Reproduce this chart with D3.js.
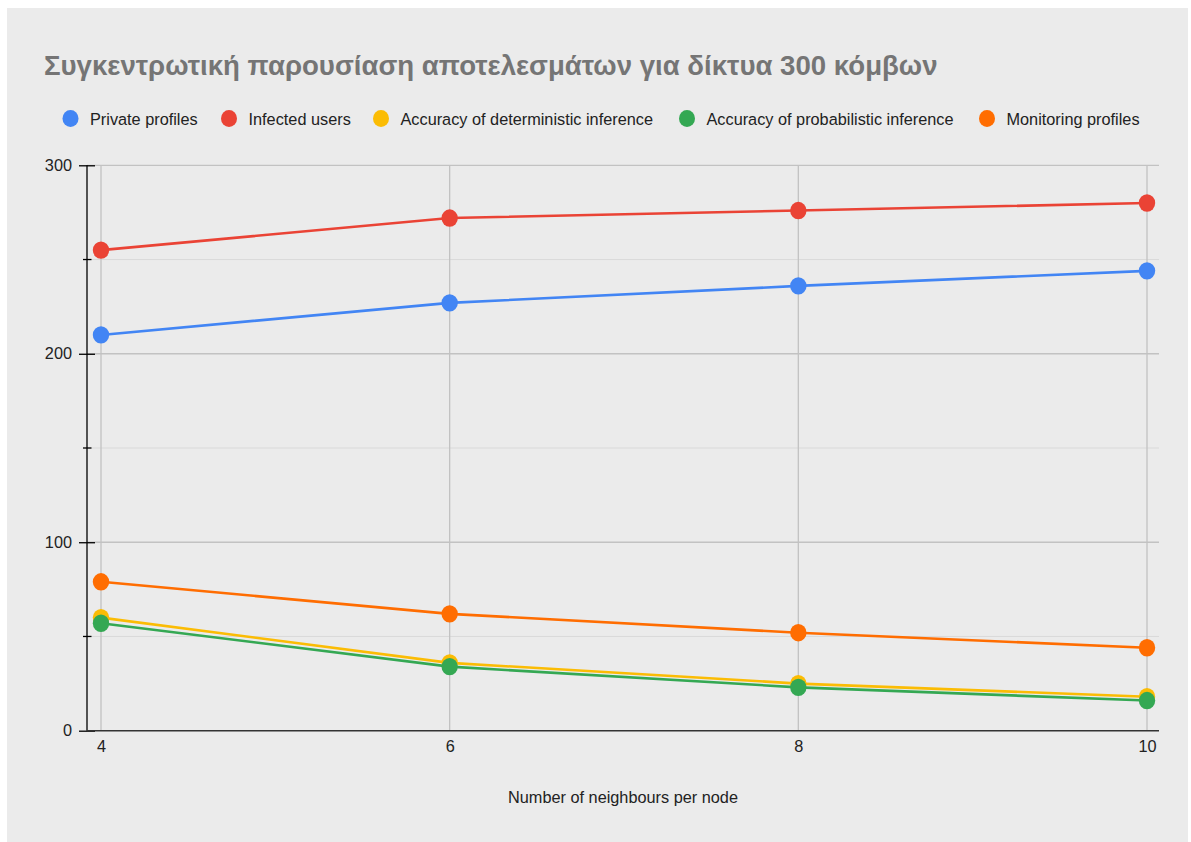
<!DOCTYPE html>
<html>
<head>
<meta charset="utf-8">
<script src="https://cdn.jsdelivr.net/npm/d3@7"></script>
<style>
html,body{margin:0;padding:0;background:#fff;}
svg{display:block;font-family:"Liberation Sans",Arial,sans-serif;}
</style>
</head>
<body>
<svg id="chart" width="1191" height="842"></svg>
<script>
const title = "Συγκεντρωτική παρουσίαση αποτελεσμάτων για δίκτυα 300 κόμβων";
const xLabel = "Number of neighbours per node";
const categories = [4, 6, 8, 10];
const seriesNames = ["Private profiles", "Infected users", "Accuracy of deterministic inference", "Accuracy of probabilistic inference", "Monitoring profiles"];
const seriesColors = ["#4285f4", "#ea4335", "#fbbc04", "#34a853", "#ff6d01"];
const privateProfiles = [210, 227, 236, 244];
const infectedUsers = [255, 272, 276, 280];
const deterministic = [60, 36, 25, 18];
const probabilistic = [57, 34, 23, 16];
const monitoring = [79, 62, 52, 44];
const yTicks = [0, 100, 200, 300];
const yMinorTicks = [50, 150, 250];
const xTicks = [4, 6, 8, 10];

const seriesValues = [privateProfiles, infectedUsers, deterministic, probabilistic, monitoring];
// draw order: so green sits over yellow
const drawOrder = [0, 1, 2, 4, 3];

const svg = d3.select("#chart");
svg.append("rect").attr("x", 7).attr("y", 8).attr("width", 1181).attr("height", 834).attr("fill", "#ebebeb");

const x = d3.scaleLinear().domain([4, 10]).range([101, 1147]);
const y = d3.scaleLinear().domain([0, 300]).range([730.7, 165.3]);
const plotLeft = 87, plotRight = 1159;
const labelSize = 16.3;

// title
svg.append("text").attr("x", 44).attr("y", 75).attr("font-size", 27.6).attr("font-weight", "bold")
  .attr("fill", "#757575").text(title);

// legend
const legendX = [70.5, 229, 381, 687, 987];
seriesNames.forEach((n, i) => {
  const g = svg.append("g");
  g.append("ellipse").attr("cx", legendX[i]).attr("cy", 118.5).attr("rx", 8).attr("ry", 8.5).attr("fill", seriesColors[i]);
  g.append("text").attr("x", legendX[i] + 19.5).attr("y", 124.5).attr("font-size", labelSize).attr("fill", "#222").text(n);
});

// minor gridlines
svg.append("g").selectAll("line").data(yMinorTicks).join("line")
  .attr("x1", plotLeft).attr("x2", plotRight).attr("y1", d => y(d)).attr("y2", d => y(d))
  .attr("stroke", "#d9d9d9").attr("stroke-width", 1);
// major gridlines
svg.append("g").selectAll("line").data(yTicks.filter(d => d > 0)).join("line")
  .attr("x1", plotLeft).attr("x2", plotRight).attr("y1", d => y(d)).attr("y2", d => y(d))
  .attr("stroke", "#c2c2c2").attr("stroke-width", 1.3);
// vertical gridlines
svg.append("g").selectAll("line").data(xTicks).join("line")
  .attr("x1", d => x(d)).attr("x2", d => x(d)).attr("y1", y(300)).attr("y2", y(0))
  .attr("stroke", "#c2c2c2").attr("stroke-width", 1.3);

// y axis
const yAxis = d3.axisLeft(y).tickValues(yTicks).tickSize(8).tickPadding(8);
const gy = svg.append("g").attr("transform", `translate(${plotLeft},0)`).call(yAxis);
gy.select(".domain").attr("stroke", "#000").attr("stroke-width", 1.3).attr("d", `M0,${y(300)}V${y(0)}`);
gy.selectAll(".tick line").attr("stroke", "#000").attr("stroke-width", 1.3).attr("x1", 8).attr("x2", -8);
gy.selectAll(".tick text").attr("font-size", labelSize).attr("fill", "#222").attr("font-family", "Liberation Sans, Arial, sans-serif").attr("x", -15);
svg.append("g").selectAll("line").data(yMinorTicks).join("line")
  .attr("x1", plotLeft - 4).attr("x2", plotLeft + 4.5).attr("y1", d => y(d)).attr("y2", d => y(d))
  .attr("stroke", "#000").attr("stroke-width", 1.3);

// x axis
const xAxis = d3.axisBottom(x).tickValues(xTicks).tickSize(0).tickPadding(10).tickFormat(d3.format("d"));
const gx = svg.append("g").attr("transform", `translate(0,${y(0)})`).call(xAxis);
gx.select(".domain").remove();
gx.selectAll(".tick text").attr("font-size", labelSize).attr("fill", "#222").attr("font-family", "Liberation Sans, Arial, sans-serif");
svg.append("line").attr("x1", plotLeft).attr("x2", plotRight).attr("y1", y(0)).attr("y2", y(0))
  .attr("stroke", "#333").attr("stroke-width", 1.5);

// x label
svg.append("text").attr("x", 623).attr("y", 803).attr("text-anchor", "middle").attr("font-size", labelSize)
  .attr("fill", "#222").text(xLabel);

// series
const line = d3.line().x((d, i) => x(categories[i])).y(d => y(d));
drawOrder.forEach(i => {
  const g = svg.append("g");
  g.append("path").datum(seriesValues[i]).attr("d", line).attr("fill", "none")
    .attr("stroke", seriesColors[i]).attr("stroke-width", 2.6);
  g.selectAll("ellipse").data(seriesValues[i]).join("ellipse")
    .attr("cx", (d, j) => x(categories[j])).attr("cy", d => y(d)).attr("rx", 8.2).attr("ry", 8.7)
    .attr("fill", seriesColors[i]);
});
</script>
</body>
</html>
